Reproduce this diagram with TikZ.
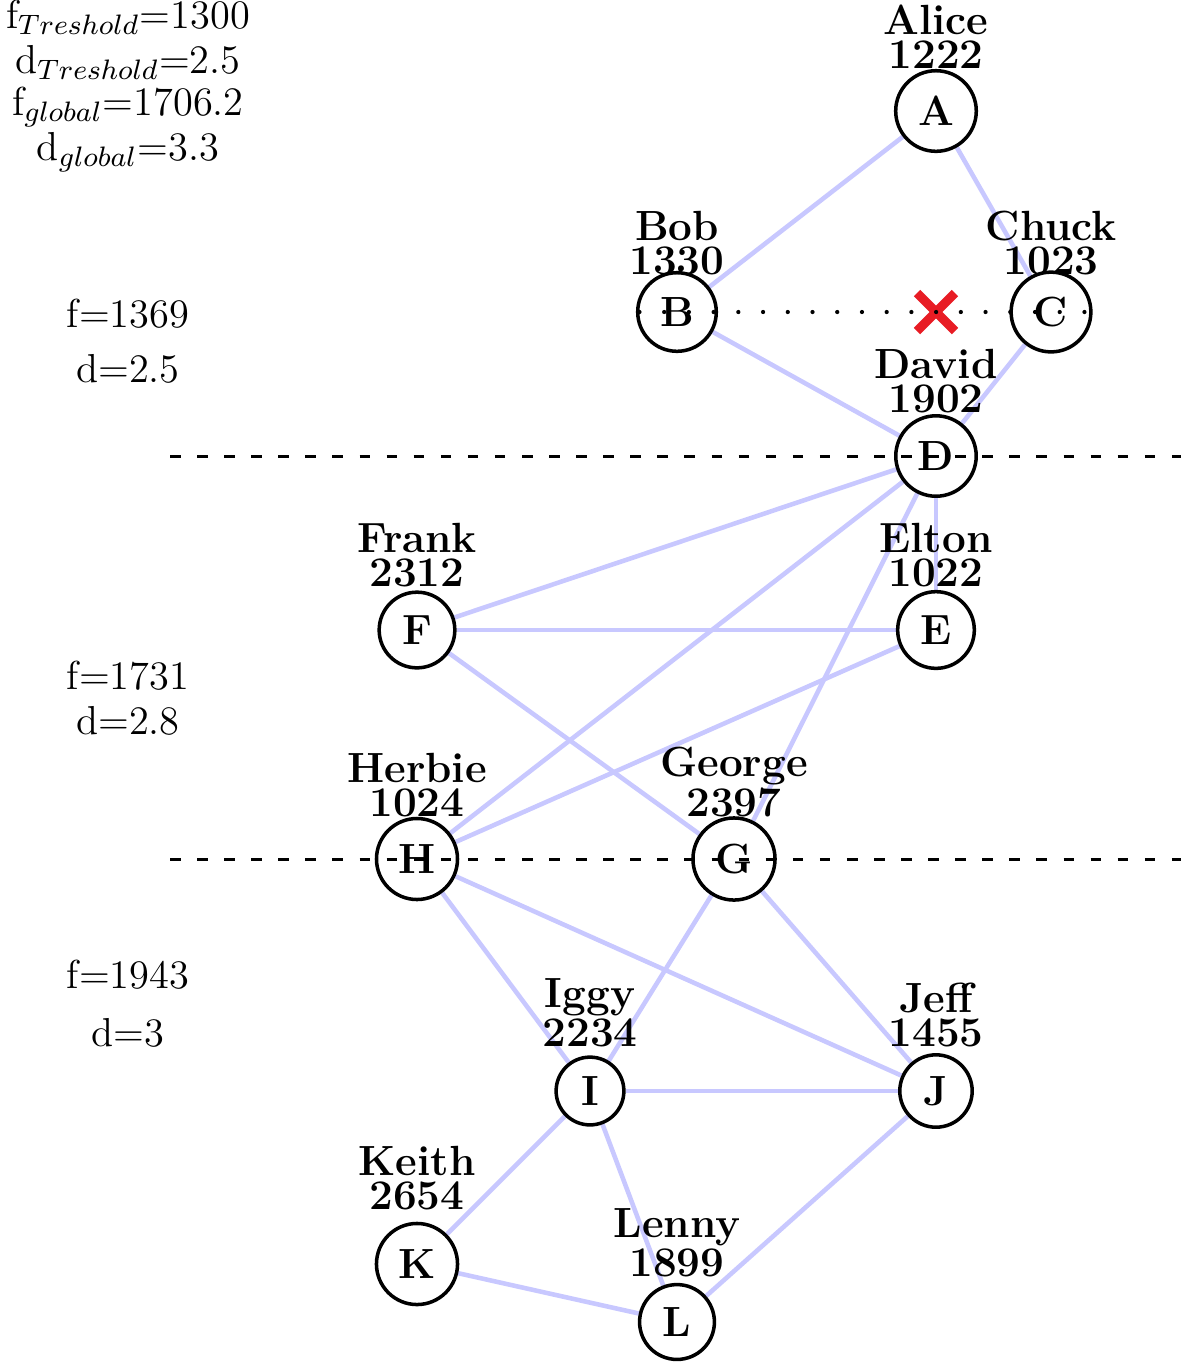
\documentclass[tikz,border=0pt]{standalone}
\usepackage{fontspec}
\pgfdeclarelayer{bg}
\pgfsetlayers{bg,main}
\definecolor{linkcol}{RGB}{200,200,255}
\definecolor{crossred}{RGB}{232,28,36}
\begin{document}
\begin{tikzpicture}[x=0.01cm,y=-0.01cm,
  person/.style={circle,draw,line width=1pt,inner sep=3.45pt,font=\fontsize{12}{9.7}\selectfont\bfseries},
  lbl/.style={align=center,inner sep=0pt,anchor=south,font=\fontsize{12}{9.7}\selectfont\bfseries},
  info/.style={anchor=base,inner sep=0pt,font=\fontsize{11.5}{13}\selectfont},
  link/.style={draw=linkcol,line width=1.3pt},
  sepline/.style={line width=0.85pt,dash pattern=on 3pt off 4.7pt},
  dotline/.style={line width=1.2pt,line cap=round,dash pattern=on 0pt off 7.03pt}]
\useasboundingbox (0,0) rectangle (1181,1362);

% info texts
\node[info] (t1) at (128,28) {f$_{Treshold}$=1300};
\node[info] (t2) at (128,73) {d$_{Treshold}$=2.5};
\node[info] (t3) at (128,115) {f$_{global}$=1706.2};
\node[info] (t4) at (128,160) {d$_{global}$=3.3};
\node[info] (f1) at (128,327) {f=1369};
\node[info] (d1) at (128,382) {d=2.5};
\node[info] (f2) at (128,689) {f=1731};
\node[info] (d2) at (128,734) {d=2.8};
\node[info] (f3) at (128,988) {f=1943};
\node[info] (d3) at (128,1046) {d=3};

% persons
\node[person] (A) at (936,111) {A};
\node[person] (B) at (677,312) {B};
\node[person] (C) at (1051,312) {C};
\node[person] (D) at (936,456) {D};
\node[person] (E) at (936,630) {E};
\node[person] (F) at (417,630) {F};
\node[person] (G) at (734,859) {G};
\node[person] (H) at (417,859) {H};
\node[person] (I) at (590,1091) {I};
\node[person] (J) at (936,1091) {J};
\node[person] (K) at (417,1264) {K};
\node[person] (L) at (677,1322) {L};

% labels
\node[lbl] (lA) at (936,69) {Alice\\1222};
\node[lbl] (lB) at (677,276) {Bob\\1330};
\node[lbl] (lC) at (1051,276) {Chuck\\1023};
\node[lbl] (lD) at (936,414) {David\\1902};
\node[lbl] (lE) at (936,588) {Elton\\1022};
\node[lbl] (lF) at (417,588) {Frank\\2312};
\node[lbl] (lG) at (734,818) {George\\2397};
\node[lbl] (lH) at (417,818) {Herbie\\1024};
\node[lbl] (lI) at (590,1048) {Iggy\\2234};
\node[lbl] (lJ) at (936,1048) {Jeff\\1455};
\node[lbl] (lK) at (417,1211) {Keith\\2654};
\node[lbl] (lL) at (677,1278) {Lenny\\1899};

% links
\begin{pgfonlayer}{bg}
\draw[link] (A) -- (B);
\draw[link] (A) -- (C);
\draw[link] (B) -- (D);
\draw[link] (C) -- (D);
\draw[link] (D) -- (F);
\draw[link] (D) -- (E);
\draw[link] (D) -- (H);
\draw[link] (D) -- (G);
\draw[link] (F) -- (E);
\draw[link] (F) -- (G);
\draw[link] (E) -- (H);
\draw[link] (H) -- (I);
\draw[link] (H) -- (J);
\draw[link] (G) -- (I);
\draw[link] (G) -- (J);
\draw[link] (I) -- (J);
\draw[link] (I) -- (K);
\draw[link] (I) -- (L);
\draw[link] (K) -- (L);
\draw[link] (L) -- (J);
\end{pgfonlayer}

% cross
\coordinate (X) at (936,312);
\draw[crossred,line width=2.6pt] ([shift={(-19,-19)}]X) -- ([shift={(19,19)}]X);
\draw[crossred,line width=2.6pt] ([shift={(-19,19)}]X) -- ([shift={(19,-19)}]X);

% dotted B-C
\draw[dotline] ([xshift=1pt]B.west) -- (C.east);

% separators
\coordinate (s1a) at (170,456);
\coordinate (s1b) at (1181,456);
\coordinate (s2a) at (170,859);
\coordinate (s2b) at (1181,859);
\draw[sepline] (s1a) -- (s1b);
\draw[sepline] (s2a) -- (s2b);
\end{tikzpicture}
\end{document}
